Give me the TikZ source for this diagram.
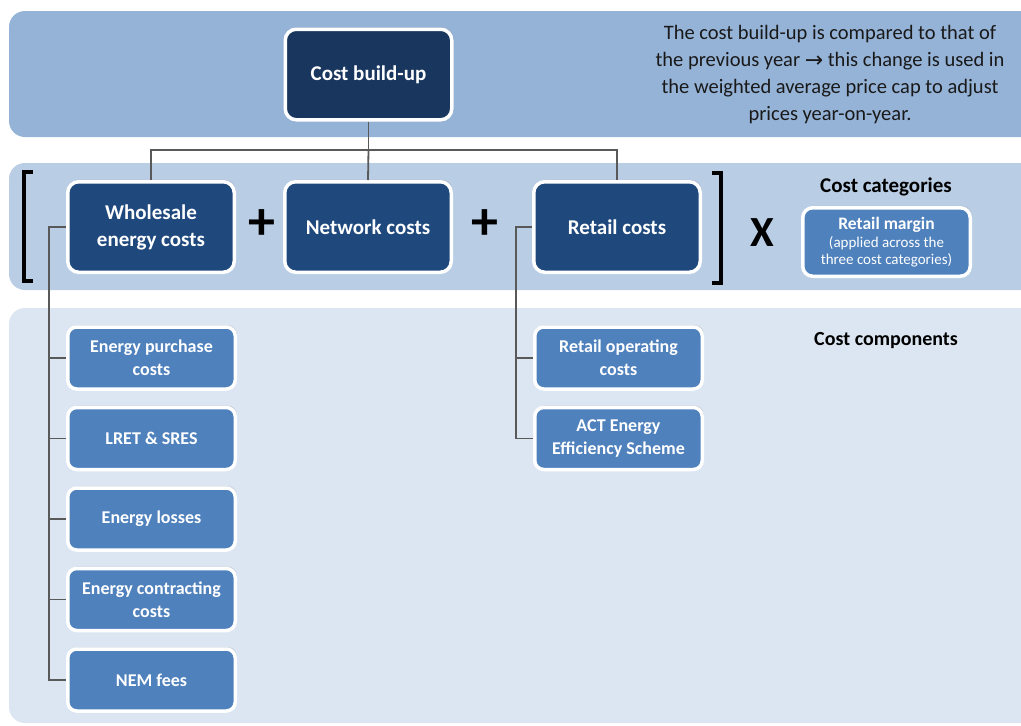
\documentclass[tikz,border=0pt]{standalone}
\usepackage{fontspec}
\setmainfont{Carlito}
\usetikzlibrary{positioning,shadows}
\definecolor{BandTop}{RGB}{149,179,215}
\definecolor{BandMid}{RGB}{185,205,229}
\definecolor{BandLow}{RGB}{220,230,242}
\definecolor{DeepBlue}{RGB}{24,54,94}
\definecolor{MidBlue}{RGB}{31,73,125}
\definecolor{SoftBlue}{RGB}{79,129,189}
\definecolor{LinkGrey}{RGB}{89,89,89}
\tikzset{
  boxbase/.style={draw=white,line width=3.5pt,rounded corners=11pt,text=white,
    align=center,font=\bfseries,
    drop shadow={shadow xshift=1.5pt,shadow yshift=2pt,opacity=0.25}},
  topcell/.style={boxbase,fill=DeepBlue,minimum width=166.5pt,minimum height=90.5pt,
    font=\fontsize{21}{24}\selectfont\bfseries},
  catcell/.style={boxbase,fill=MidBlue,minimum width=166.5pt,minimum height=90.5pt,
    font=\fontsize{21}{27}\selectfont\bfseries},
  compcell/.style={boxbase,fill=SoftBlue,minimum width=167.5pt,minimum height=62pt,
    rounded corners=9pt,font=\fontsize{18}{23}\selectfont\bfseries},
  link/.style={LinkGrey,line width=1.8pt},
  bracket/.style={line width=3.5pt,black},
  sign/.style={font=\fontsize{54}{54}\selectfont\bfseries}
}

\begin{document}
\begin{tikzpicture}[x=1pt,y=-1pt,node distance=15pt]
\useasboundingbox (0,0) rectangle (1021,726);
\begin{scope}
\clip (0,0) rectangle (1021,726);
\fill[white] (0,0) rectangle (1021,726);
% bands
\fill[BandTop,rounded corners=16pt] (9,11) rectangle (1060,137);
\fill[BandMid,rounded corners=16pt] (9,163) rectangle (1060,290);
\fill[BandLow,rounded corners=16pt] (9,308) rectangle (1060,723);
\end{scope}

% top and categories
\node[topcell] (build) at (368.5,74.5) {Cost build-up};
\node[catcell] (whole) at (151,227) {Wholesale\\energy costs};
\node[catcell,right=47pt of whole] (net) {Network costs};
\node[catcell,right=79pt of net] (retail) {Retail costs};

\node[sign] (plusa) at (262,225) {+};
\node[sign] (plusb) at (485,225) {+};
\node[font=\fontsize{43}{43}\selectfont\bfseries] (times) at (762,233) {X};

\draw[bracket] (33,172) -- (24,172) -- (24,281) -- (33,281);
\draw[bracket] (712,173) -- (721,173) -- (721,283) -- (712,283);

\node[font=\fontsize{21}{24}\selectfont\bfseries] (catlabel) at (886,187) {Cost categories};
\node[boxbase,fill=SoftBlue,minimum width=167.5pt,minimum height=68.5pt,rounded corners=10pt,
  font=\fontsize{17.5}{20}\selectfont] (margin) at (886.5,242)
  {\textbf{Retail margin}\\[-2pt]{\fontsize{15}{20}\selectfont\mdseries(applied across the}\\[-3pt]
   {\fontsize{15}{20}\selectfont\mdseries three cost categories)}};

\node[align=center,text=black!90,font=\fontsize{20.5}{27}\selectfont] (note) at (830,75)
  {The cost build-up is compared to that of\\
   the previous year {\fontspec{DejaVu Sans}\fontsize{22}{27}\selectfont\raisebox{-1pt}{→}} this change is used in\\
   the weighted average price cap to adjust\\
   prices year-on-year.};

% components
\node[compcell] (purchase) at (151.5,358) {Energy purchase\\costs};
\node[compcell,below=15pt of purchase] (lret) {LRET \& SRES};
\node[compcell,below=15pt of lret] (losses) {Energy losses};
\node[compcell,below=15pt of losses] (contract) {Energy contracting\\costs};
\node[compcell,below=15pt of contract] (nem) {NEM fees};

\node[compcell] (operating) at (618.5,358) {Retail operating\\costs};
\node[compcell,below=15pt of operating] (act) {ACT Energy\\Efficiency Scheme};

\node[font=\fontsize{20}{24}\selectfont\bfseries] (complabel) at (886,341) {Cost components};

% connectors
\coordinate (hub) at (368.5,150);
\draw[link] (build.south) -- (hub);
\draw[link] (whole.north) |- (hub) -| (retail.north);
\draw[link] (hub) -- (net.north);

\coordinate (wtrunk) at (49,227);
\draw[link] (whole.west) -- (wtrunk) |- (nem.west);
\foreach \n in {purchase,lret,losses,contract}
  \draw[link] (wtrunk |- \n.west) -- (\n.west);

\coordinate (rtrunk) at (516,227);
\draw[link] (retail.west) -- (rtrunk) |- (act.west);
\draw[link] (rtrunk |- operating.west) -- (operating.west);

\end{tikzpicture}
\end{document}
